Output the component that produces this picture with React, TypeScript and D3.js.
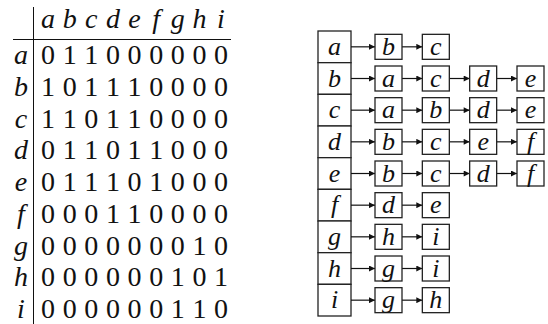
import React from 'react';
import * as d3 from 'd3';

const vertices = ['a', 'b', 'c', 'd', 'e', 'f', 'g', 'h', 'i'];

const matrixRows = [
  [0, 1, 1, 0, 0, 0, 0, 0, 0],
  [1, 0, 1, 1, 1, 0, 0, 0, 0],
  [1, 1, 0, 1, 1, 0, 0, 0, 0],
  [0, 1, 1, 0, 1, 1, 0, 0, 0],
  [0, 1, 1, 1, 0, 1, 0, 0, 0],
  [0, 0, 0, 1, 1, 0, 0, 0, 0],
  [0, 0, 0, 0, 0, 0, 0, 1, 0],
  [0, 0, 0, 0, 0, 0, 1, 0, 1],
  [0, 0, 0, 0, 0, 0, 1, 1, 0],
];

const adjacencyLists = [
  ['b', 'c'],
  ['a', 'c', 'd', 'e'],
  ['a', 'b', 'd', 'e'],
  ['b', 'c', 'e', 'f'],
  ['b', 'c', 'd', 'f'],
  ['d', 'e'],
  ['h', 'i'],
  ['g', 'i'],
  ['g', 'h'],
];

const width = 548;
const height = 324;
const serifFont = "'Liberation Serif', 'Times New Roman', serif";

// matrix scales
const colX = d3.scaleLinear().domain([0, 8]).range([48, 221]);
const rowY = d3.scaleLinear().domain([0, 8]).range([64, 318]);

// list scales
const band = d3.scaleBand().domain(vertices).range([31, 316]);
const nodeX = d3.scaleLinear().domain([0, 3]).range([375, 517]);
const headX = 318;
const headW = 33;
const nodeW = 27;
const nodeH = 25;

export default function App() {
  return (
    <svg width={width} height={height} fontFamily={serifFont}
      style={{ position: 'absolute', left: 0, top: 0, background: 'white', fontFamily: serifFont }}>
      <defs>
        <marker id="arrowhead" viewBox="0 0 10 10" refX={10} refY={5}
          markerWidth={8} markerHeight={6} markerUnits="userSpaceOnUse" orient="auto">
          <path d="M0,0 L10,5 L0,10 z" fill="#111" />
        </marker>
      </defs>

      {/* adjacency matrix */}
      <line x1={33.5} x2={33.5} y1={7} y2={height} stroke="#111" strokeWidth={1} />
      <line x1={13} x2={231} y1={39.5} y2={39.5} stroke="#111" strokeWidth={1} />
      <text fill="#111" textAnchor="middle" fontFamily={serifFont} fontSize={28} fontStyle="italic">
        {vertices.map((v, i) => (
          <tspan key={'c' + v} x={colX(i)} y={28}>{v}</tspan>
        ))}
        {vertices.map((v, i) => (
          <tspan key={'r' + v} x={21} y={rowY(i)}>{v}</tspan>
        ))}
      </text>
      {matrixRows.map((row, i) => (
        <text key={'m' + i} fill="#111" textAnchor="middle" fontFamily={serifFont} fontSize={28}>
          {row.map((d, j) => (
            <tspan key={j} x={colX(j)} y={rowY(i)}>{String(d)}</tspan>
          ))}
        </text>
      ))}

      {/* adjacency lists */}
      {vertices.map((v, i) => {
        const cy = band(v)! + band.bandwidth() / 2;
        const items = adjacencyLists[i];
        return (
          <g key={v} transform={`translate(0, ${cy})`}>
            <rect x={headX} y={-band.bandwidth() / 2} width={headW} height={band.bandwidth()}
              fill="white" stroke="#222" strokeWidth={1.3} />
            {items.map((n, k) => (
              <line key={'l' + k}
                x1={k === 0 ? headX + headW : nodeX(k - 1) + nodeW}
                x2={nodeX(k)} y1={0} y2={0}
                stroke="#111" strokeWidth={1.2} markerEnd="url(#arrowhead)" />
            ))}
            {items.map((n, k) => (
              <rect key={'n' + k} x={nodeX(k)} y={-nodeH / 2} width={nodeW} height={nodeH}
                fill="white" stroke="#222" strokeWidth={1.3} />
            ))}
            <text fill="#111" textAnchor="middle" fontFamily={serifFont} fontSize={26} fontStyle="italic">
              <tspan x={headX + headW / 2} y={8}>{v}</tspan>
              {items.map((n, k) => (
                <tspan key={'t' + k} x={nodeX(k) + nodeW / 2} y={8}>{n}</tspan>
              ))}
            </text>
          </g>
        );
      })}
    </svg>
  );
}
